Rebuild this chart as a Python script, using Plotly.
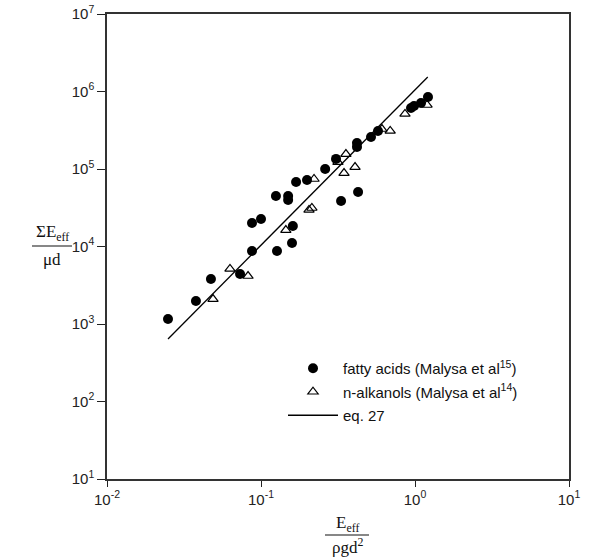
import plotly.graph_objects as go

# fatty acids (Malysa et al 15) - filled circles
fatty_x = [0.0249, 0.0378, 0.0473, 0.0731, 0.0874, 0.0874, 0.100, 0.125, 0.127,
           0.150, 0.150, 0.159, 0.161, 0.169, 0.199, 0.261, 0.307, 0.331, 0.427,
           0.420, 0.420, 0.518, 0.575, 0.942, 0.985, 1.094, 1.214]
fatty_y = [1160, 1980, 3810, 4420, 8750, 20100, 22600, 44800, 8750,
           44800, 39800, 11100, 18400, 67900, 72100, 100000, 135000, 38700, 50500,
           216000, 192000, 259000, 309000, 612000, 650000, 711000, 849000]

# n-alkanols (Malysa et al 14) - open triangles
alk_x = [0.0488, 0.0629, 0.0824, 0.145, 0.205, 0.214, 0.221, 0.316, 0.356,
         0.346, 0.408, 0.610, 0.690, 0.861, 1.197]
alk_y = [2100, 5130, 4160, 16300, 29600, 31400, 74300, 123000, 156000,
         88700, 106000, 328000, 310000, 513000, 670000]

# eq. 27 line end points
eq_x = [0.0249, 1.21]
eq_y = [640, 1.54e6]

x_tickvals = [0.01, 0.1, 1, 10]
x_ticktext = ["10<sup>-2</sup>", "10<sup>-1</sup>", "10<sup>0</sup>", "10<sup>1</sup>"]
y_tickvals = [1e1, 1e2, 1e3, 1e4, 1e5, 1e6, 1e7]
y_ticktext = ["10<sup>1</sup>", "10<sup>2</sup>", "10<sup>3</sup>", "10<sup>4</sup>",
              "10<sup>5</sup>", "10<sup>6</sup>", "10<sup>7</sup>"]

fig = go.Figure()
fig.add_trace(go.Scatter(
    x=fatty_x, y=fatty_y, mode="markers", legendgroup="a",
    name="fatty acids (Malysa et al<sup>15</sup>)",
    marker=dict(symbol="circle", size=10, color="black"),
))
fig.add_trace(go.Scatter(
    x=alk_x, y=alk_y, mode="markers", legendgroup="b",
    name="n-alkanols (Malysa et al<sup>14</sup>)",
    marker=dict(symbol="triangle-up-open", size=9, color="black", line=dict(width=1.2)),
))
fig.add_trace(go.Scatter(
    x=eq_x, y=eq_y, mode="lines", legendgroup="c",
    name="eq. 27",
    line=dict(color="black", width=1.3),
))

L, R, T, B = 107, 25, 14, 81
W, H = 594, 560
pw, ph = W - L - R, H - T - B

def px(x):
    return (x - L) / pw

def py(y):
    return 1 - (y - T) / ph

axis_common = dict(
    type="log", showgrid=False, zeroline=False, showline=True, automargin=False,
    linecolor="#333", linewidth=1.5, mirror=True,
    ticks="outside", tickcolor="#222", tickwidth=1.2,
    tickfont=dict(family="Liberation Sans, Arial", size=15, color="#222"),
)

fig.update_layout(
    width=W, height=H,
    margin=dict(l=L, r=R, t=T, b=B, autoexpand=False),
    paper_bgcolor="white", plot_bgcolor="white",
    showlegend=True,
    legend=dict(
        x=px(283), y=py(352), xanchor="left", yanchor="top",
        bgcolor="rgba(0,0,0,0)", itemwidth=50, tracegroupgap=1,
        font=dict(family="Liberation Sans, Arial", size=15, color="#111"),
    ),
    xaxis=dict(range=[-2, 1], tickvals=x_tickvals, ticktext=x_ticktext, ticklen=6, **axis_common),
    yaxis=dict(range=[1, 7], tickvals=y_tickvals, ticktext=y_ticktext, ticklen=8, **axis_common),
)

serif = dict(family="Liberation Serif, Times New Roman", size=17, color="#111")

def label(text, x, y):
    fig.add_annotation(text=text, xref="paper", yref="paper", x=px(x), y=py(y),
                       xanchor="center", yanchor="middle", showarrow=False, font=serif)

# x-axis title as fraction
label("E<sub>eff</sub>", 347, 524)
label("ρgd<sup>2</sup>", 347, 546)
fig.add_shape(type="line", xref="paper", yref="paper",
              x0=px(325), x1=px(369), y0=py(535), y1=py(535),
              line=dict(color="#111", width=1.2))
# y-axis title as fraction
label("ΣE<sub>eff</sub>", 52, 233)
label("μd", 52, 259)
fig.add_shape(type="line", xref="paper", yref="paper",
              x0=px(32), x1=px(72), y0=py(246), y1=py(246),
              line=dict(color="#111", width=1.2))

fig.write_html("out.html")
